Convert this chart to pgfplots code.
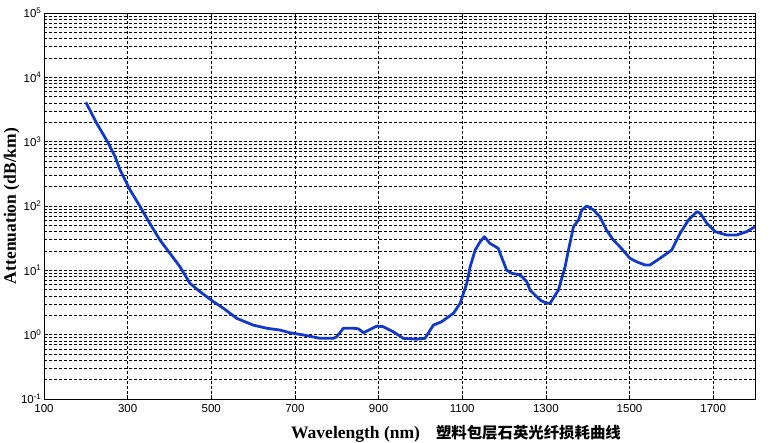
\documentclass[border=0pt]{standalone}
\usepackage{fontspec}
\setmainfont{Liberation Sans}
\newfontfamily\tnr{Liberation Serif}
\newfontfamily\cjk{Noto Sans CJK SC}
\usepackage{pgfplots}
\pgfplotsset{compat=1.18}
\definecolor{lossblue}{RGB}{18,58,200}

\begin{document}
\begin{tikzpicture}
\useasboundingbox (-44pt,-44pt) rectangle (728pt,399pt);
\begin{axis}[
  at={(0,0)}, anchor=south west,
  scale only axis, width=711pt, height=386pt,
  xmin=100, xmax=1800,
  ymode=log, ymin=0.1, ymax=1e5,
  xtick={100,300,...,1700},
  xticklabels={100,300,500,700,900,1100,1300,1500,1700},
  ytick={0.1,1,10,100,1000,10000,100000},
  minor ytick={0.2,0.3,0.4,0.5,0.6,0.7,0.8,0.9,
    2,3,4,5,6,7,8,9,20,30,40,50,60,70,80,90,
    200,300,400,500,600,700,800,900,
    2000,3000,4000,5000,6000,7000,8000,9000,
    2e4,3e4,4e4,5e4,6e4,7e4,8e4,9e4},
  yticklabels={10\textsuperscript{-1},10\textsuperscript{0},10\textsuperscript{1},10\textsuperscript{2},10\textsuperscript{3},10\textsuperscript{4},10\textsuperscript{5}},
  grid=both,
  major grid style={black, line width=0.6pt, dash pattern=on 3pt off 2pt},
  minor grid style={black, line width=0.6pt, dash pattern=on 3pt off 2pt},
  tick align=inside, major tick length=4pt, minor tick length=2pt,
  tick style={black, line width=0.5pt},
  axis line style={black, line width=0.8pt},
  ticklabel style={font=\fontsize{11.5}{13}\selectfont},
  xticklabel style={yshift=-2pt},
  yticklabel style={xshift=1pt},
]
\addplot[lossblue, line width=2.8pt, line join=round] table[row sep=\\] {
x y\\
200 4100\\ 226 1930\\ 254 944\\ 270 585\\ 282 363\\ 306 177\\ 330 97.5\\
353 53.8\\ 377 29.7\\ 401 18.4\\ 425 11.4\\ 449 6.28\\ 473 4.66\\ 505 3.26\\
529 2.57\\ 561 1.79\\ 600 1.41\\ 632 1.26\\ 664 1.18\\ 688 1.07\\ 720 0.99\\
760 0.877\\ 792 0.877\\ 800 0.93\\ 816 1.26\\ 840 1.26\\ 852 1.23\\ 864 1.07\\
880 1.21\\ 896 1.36\\ 911 1.33\\ 935 1.11\\ 959 0.877\\ 991 0.85\\ 1011 0.877\\
1031 1.41\\ 1050 1.58\\ 1079 2.15\\ 1095 3.07\\ 1103 4.4\\ 1111 6.3\\ 1119 11.4\\
1131 20.7\\ 1143 27.9\\ 1153 33.4\\ 1166 26.3\\ 1186 22\\ 1206 10.1\\ 1218 9.0\\
1238 8.5\\ 1254 6.7\\ 1262 4.94\\ 1286 3.46\\ 1302 3.07\\ 1310 3.07\\ 1330 4.94\\
1346 11.4\\ 1354 20.7\\ 1366 47.6\\ 1378 60.7\\ 1386 86.7\\ 1398 100\\ 1414 86.7\\
1429 68.2\\ 1445 42.4\\ 1461 29.7\\ 1477 23.3\\ 1501 15.4\\ 1517 13.6\\ 1537 12.1\\
1549 12.1\\ 1573 15.4\\ 1601 20.7\\ 1621 37.7\\ 1641 60.7\\ 1661 81.7\\ 1669 77\\
1685 53.8\\ 1705 39.9\\ 1732 35.4\\ 1756 35.4\\ 1780 39.9\\ 1800 47.6\\
};
\end{axis}
\node[rotate=90, anchor=base, inner sep=0pt, font=\tnr\bfseries\fontsize{17.5}{20}\selectfont]
  at (-28pt,193pt) {Attenuation (dB/km)};
\node[anchor=base west, inner sep=0pt] at (247pt,-39.5pt)
  {\tnr\bfseries\fontsize{17.5}{20}\selectfont Wavelength (nm)\hspace{16pt}{\cjk\bfseries\fontsize{15.4}{18}\selectfont 塑料包层石英光纤损耗曲线}};
\end{tikzpicture}
\end{document}
